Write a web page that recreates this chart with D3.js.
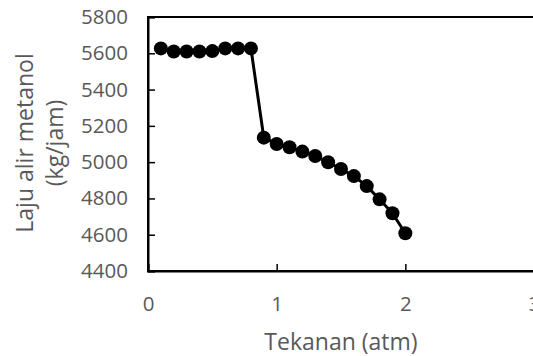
<!DOCTYPE html>
<html>
<head>
<meta charset="utf-8">
<script src="https://cdn.jsdelivr.net/npm/d3@7"></script>
<style>
  body { margin: 0; background: #fff; }
  text { font-family: "Open Sans", sans-serif; fill: #595959; }
</style>
</head>
<body>
<div id="chart"></div>
<script>
// Tekanan (atm) vs laju alir metanol (kg/jam)
var tekanan = [0.1, 0.2, 0.3, 0.4, 0.5, 0.6, 0.7, 0.8, 0.9, 1.0,
               1.1, 1.2, 1.3, 1.4, 1.5, 1.6, 1.7, 1.8, 1.9, 2.0];
var lajuAlir = [5627, 5610, 5610, 5610, 5612, 5627, 5627, 5627, 5135, 5100,
                5082, 5058, 5034, 4999, 4962, 4923, 4868, 4795, 4718, 4608];
var xTicks = [0, 1, 2, 3];
var yTicks = [4400, 4600, 4800, 5000, 5200, 5400, 5600, 5800];

var margin = { top: 17, right: -1, bottom: 85, left: 148 },
  width = 533 - margin.left - margin.right,
  height = 356 - margin.top - margin.bottom;

var svg = d3.select("#chart").append("svg")
  .attr("width", 533)
  .attr("height", 356)
  .append("g")
  .attr("transform", "translate(" + margin.left + "," + margin.top + ")");

var x = d3.scaleLinear().domain([0, 3]).range([0, width]);
var y = d3.scaleLinear().domain([4400, 5800]).range([height, 0]);

// plot area frame
svg.append("rect")
  .attr("width", width)
  .attr("height", height)
  .attr("fill", "none")
  .attr("stroke", "#000")
  .attr("stroke-width", 2);

var xAxis = svg.append("g")
  .attr("transform", "translate(0," + height + ")")
  .call(d3.axisBottom(x).tickValues(xTicks).tickSize(-7).tickPadding(25).tickFormat(d3.format("d")));

var yAxis = svg.append("g")
  .call(d3.axisLeft(y).tickValues(yTicks).tickSize(-7).tickPadding(20).tickFormat(d3.format("d")));

[xAxis, yAxis].forEach(function(a) {
  a.select(".domain").attr("stroke", "#000").attr("stroke-width", 2);
  a.selectAll(".tick line").attr("stroke", "#000").attr("stroke-width", 1.5);
  a.selectAll(".tick text")
    .style("font-family", "'Open Sans', sans-serif")
    .style("font-size", "20.5px")
    .attr("fill", "#595959");
});

var points = tekanan.map(function(t, i) { return [t, lajuAlir[i]]; });

var line = d3.line()
  .x(function(d) { return x(d[0]); })
  .y(function(d) { return y(d[1]); });

svg.append("path")
  .datum(points)
  .attr("d", line)
  .attr("fill", "none")
  .attr("stroke", "#000")
  .attr("stroke-width", 3);

svg.selectAll(".dot")
  .data(points)
  .enter().append("circle")
  .attr("class", "dot")
  .attr("cx", function(d) { return x(d[0]); })
  .attr("cy", function(d) { return y(d[1]); })
  .attr("r", 7)
  .attr("fill", "#000");

// axis titles
svg.append("text")
  .attr("x", width / 2)
  .attr("y", height + 79)
  .attr("text-anchor", "middle")
  .style("font-size", "23px")
  .text("Tekanan (atm)");

var yTitle = svg.append("text")
  .attr("transform", "translate(" + (-margin.left + 33) + "," + (height / 2 - 1) + ") rotate(-90)")
  .attr("text-anchor", "middle")
  .style("font-size", "23px");
yTitle.append("tspan").attr("x", 0).attr("dy", 0).text("Laju alir metanol");
yTitle.append("tspan").attr("x", 0).attr("dy", 30).text("(kg/jam)");
</script>
</body>
</html>
